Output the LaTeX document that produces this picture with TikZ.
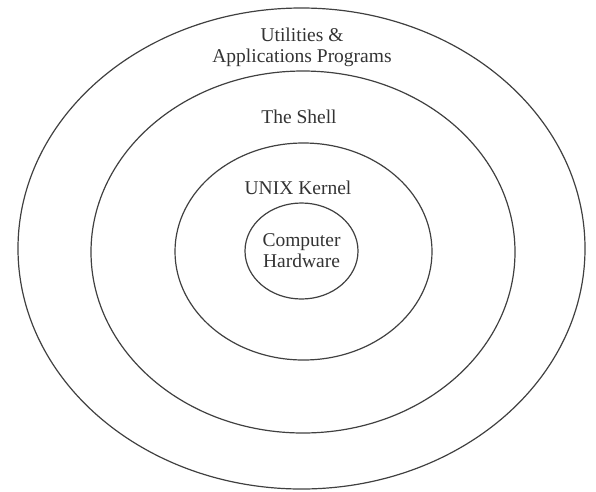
\documentclass[tikz,border=0pt]{standalone}
\usepackage{fontspec}
\setmainfont{Liberation Serif}
\usetikzlibrary{shapes.geometric,positioning}
\begin{document}
\begin{tikzpicture}[x=1pt, y=-1pt]

% Define styles
\tikzstyle{layer} = [draw=black!75, ellipse, line width=1.2pt, inner sep=0pt, align=center, font=\fontsize{19.5}{21}\selectfont, text=black!80]
\tikzstyle{caption} = [align=center, font=\fontsize{19.5}{21}\selectfont, text=black!80]

\useasboundingbox (0,0) rectangle (596,491);

% Layers, outside in
\node[layer, minimum width=567pt, minimum height=481pt] (apps) at (301.5,248.5) {};
\node[layer, minimum width=424pt, minimum height=362pt] (shell) at (303,252) {};
\node[layer, minimum width=257pt, minimum height=217pt] (kernel) at (303.5,251.5) {};
\node[layer, minimum width=113pt, minimum height=96pt] (hardware) at (301.5,251) {Computer\\Hardware};

% Labels
\node[caption] (appslabel) at (302,47) {Utilities \&\\Applications Programs};
\node[caption] (shelllabel) at (299,117) {The Shell};
\node[caption] (kernellabel) at (298,188) {UNIX Kernel};

\end{tikzpicture}
\end{document}
